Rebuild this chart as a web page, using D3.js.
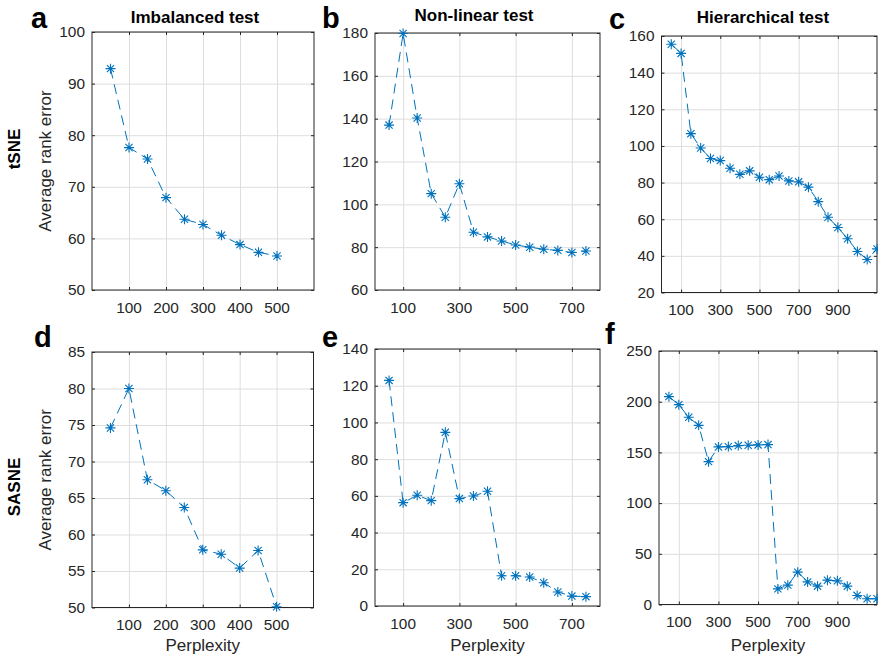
<!DOCTYPE html>
<html>
<head>
<meta charset="utf-8">
<script src="https://cdn.jsdelivr.net/npm/d3@7"></script>
<style>
  body { margin: 0; background: #fff; }
  svg { display: block; }
</style>
</head>
<body>
<div id="chart"></div>
<script>
// perplexity values per test
const xImbalanced = [50, 100, 150, 200, 250, 300, 350, 400, 450, 500];
const xNonlinear = [50, 100, 150, 200, 250, 300, 350, 400, 450, 500, 550, 600, 650, 700, 750];
const xHierarchical = [50, 100, 150, 200, 250, 300, 350, 400, 450, 500, 550, 600, 650, 700, 750, 800, 850, 900, 950, 1000, 1050, 1100];

// average rank error, tSNE row
const tsneImbalanced = [92.9, 77.6, 75.4, 67.9, 63.7, 62.7, 60.6, 58.8, 57.3, 56.6];
const tsneNonlinear = [137.0, 179.8, 140.3, 105.0, 94.0, 109.6, 87.0, 84.8, 82.9, 81.0, 80.0, 79.0, 78.5, 77.5, 78.2];
const tsneHierarchical = [155.5, 150.5, 106.7, 98.9, 93.1, 92.0, 87.8, 84.5, 86.4, 82.9, 81.6, 83.6, 80.9, 80.4, 77.5, 69.6, 61.1, 55.5, 49.3, 42.4, 38.0, 43.8];

// average rank error, SASNE row
const sasneImbalanced = [74.6, 80.0, 67.5, 66.0, 63.7, 57.9, 57.3, 55.4, 57.8, 50.1];
const sasneNonlinear = [122.9, 56.3, 60.3, 57.4, 94.6, 58.5, 59.9, 62.5, 16.5, 16.5, 15.8, 12.7, 7.6, 5.4, 5.1];
const sasneHierarchical = [205.0, 197.1, 184.6, 176.7, 140.9, 155.4, 155.7, 156.7, 157.0, 157.4, 157.7, 15.4, 19.1, 31.9, 22.3, 18.1, 24.0, 23.3, 18.1, 8.9, 5.6, 5.6];

// tick labels
const xTicksImbalanced = [100, 200, 300, 400, 500];
const xTicksNonlinear = [100, 300, 500, 700];
const xTicksHierarchical = [100, 300, 500, 700, 900];
const yTicksA = [50, 60, 70, 80, 90, 100];
const yTicksB = [60, 80, 100, 120, 140, 160, 180];
const yTicksC = [20, 40, 60, 80, 100, 120, 140, 160];
const yTicksD = [50, 55, 60, 65, 70, 75, 80, 85];
const yTicksE = [0, 20, 40, 60, 80, 100, 120, 140];
const yTicksF = [0, 50, 100, 150, 200, 250];

const titles = ["Imbalanced test", "Non-linear test", "Hierarchical test"];
const rowLabels = ["tSNE", "SASNE"];
const letters = ["a", "b", "c", "d", "e", "f"];

function drawFigure() {
  const width = 878;
  const height = 658;
  const font = "'Liberation Sans', Arial, Helvetica, sans-serif";
  const blue = "#0072BD";
  const axisColor = "#262626";
  const gridColor = "#dedede";

  const panels = [
    { x: xImbalanced, y: tsneImbalanced, xDomain: [0, 600], xTicks: xTicksImbalanced, yDomain: [50, 100], yTicks: yTicksA,
      box: { l: 92, r: 314, t: 32, b: 290 }, letter: [31, 28], title: [195, 22.7] },
    { x: xNonlinear, y: tsneNonlinear, xDomain: [0, 800], xTicks: xTicksNonlinear, yDomain: [60, 180], yTicks: yTicksB,
      box: { l: 375, r: 600, t: 33, b: 290 }, letter: [322, 28], title: [474, 21] },
    { x: xHierarchical, y: tsneHierarchical, xDomain: [0, 1100], xTicks: xTicksHierarchical, yDomain: [20, 160], yTicks: yTicksC,
      box: { l: 661.5, r: 877, t: 36, b: 292.5 }, letter: [609, 28.5], title: [763, 22.7] },
    { x: xImbalanced, y: sasneImbalanced, xDomain: [0, 600], xTicks: xTicksImbalanced, yDomain: [50, 85], yTicks: yTicksD,
      box: { l: 92, r: 313.5, t: 352, b: 607.5 }, letter: [34, 346.5] },
    { x: xNonlinear, y: sasneNonlinear, xDomain: [0, 800], xTicks: xTicksNonlinear, yDomain: [0, 140], yTicks: yTicksE,
      box: { l: 375, r: 600, t: 349, b: 606 }, letter: [322, 347] },
    { x: xHierarchical, y: sasneHierarchical, xDomain: [0, 1100], xTicks: xTicksHierarchical, yDomain: [0, 250], yTicks: yTicksF,
      box: { l: 659, r: 877, t: 351, b: 604.5 }, letter: [605, 344] }
  ];

  const svg = d3.select("#chart").append("svg")
    .attr("width", width)
    .attr("height", height)
    .style("font-family", font);

  // asterisk marker: plus + cross
  const r = 5;
  const a = r * 0.72;
  const star = `M${-r},0H${r}M0,${-r}V${r}M${-a},${-a}L${a},${a}M${-a},${a}L${a},${-a}`;

  panels.forEach((p, i) => {
    const { l, r: right, t, b } = p.box;
    const x = d3.scaleLinear().domain(p.xDomain).range([l, right]);
    const y = d3.scaleLinear().domain(p.yDomain).range([b, t]);
    const g = svg.append("g");

    // grid
    g.append("g")
      .attr("transform", `translate(0,${b})`)
      .call(d3.axisBottom(x).tickValues(p.xTicks).tickSize(-(b - t)).tickFormat(""))
      .call(s => s.select(".domain").remove())
      .call(s => s.selectAll("line").attr("stroke", gridColor).attr("stroke-width", 1));
    g.append("g")
      .attr("transform", `translate(${l},0)`)
      .call(d3.axisLeft(y).tickValues(p.yTicks).tickSize(-(right - l)).tickFormat(""))
      .call(s => s.select(".domain").remove())
      .call(s => s.selectAll("line").attr("stroke", gridColor).attr("stroke-width", 1));

    // inward ticks on all four sides
    const tickLen = 3;
    const axes = [
      [d3.axisBottom(x).tickValues(p.xTicks), `translate(0,${b})`],
      [d3.axisTop(x).tickValues(p.xTicks), `translate(0,${t})`],
      [d3.axisLeft(y).tickValues(p.yTicks), `translate(${l},0)`],
      [d3.axisRight(y).tickValues(p.yTicks), `translate(${right},0)`]
    ];
    axes.forEach(([ax, tr]) => {
      g.append("g")
        .attr("transform", tr)
        .call(ax.tickSizeInner(-tickLen).tickSizeOuter(0).tickFormat(""))
        .call(s => s.select(".domain").remove())
        .call(s => s.selectAll("line").attr("stroke", axisColor).attr("stroke-width", 1));
    });

    // tick labels
    g.selectAll(".xlab")
      .data(p.xTicks)
      .join("text")
      .attr("x", d => x(d))
      .attr("y", b + 22.5)
      .attr("text-anchor", "middle")
      .style("font-size", "15.4px")
      .style("fill", axisColor)
      .text(d => d);
    g.selectAll(".ylab")
      .data(p.yTicks)
      .join("text")
      .attr("x", l - 7)
      .attr("y", d => y(d))
      .attr("dy", "0.35em")
      .attr("text-anchor", "end")
      .style("font-size", "15.4px")
      .style("fill", axisColor)
      .text(d => d);

    // box
    g.append("rect")
      .attr("x", l).attr("y", t)
      .attr("width", right - l).attr("height", b - t)
      .attr("fill", "none")
      .attr("stroke", axisColor)
      .attr("stroke-width", 1);

    // series
    const pts = p.x.map((v, k) => [v, p.y[k]]);
    g.append("path")
      .datum(pts)
      .attr("fill", "none")
      .attr("stroke", blue)
      .attr("stroke-width", 1)
      .attr("stroke-dasharray", "10,6")
      .attr("d", d3.line().x(d => x(d[0])).y(d => y(d[1])));

    g.selectAll(".mk")
      .data(pts)
      .join("path")
      .attr("transform", d => `translate(${x(d[0])},${y(d[1])})`)
      .attr("d", star)
      .attr("fill", "none")
      .attr("stroke", blue)
      .attr("stroke-width", 1.1);

    // panel letter
    svg.append("text")
      .attr("x", p.letter[0])
      .attr("y", p.letter[1])
      .style("font-size", "29px")
      .style("font-weight", "bold")
      .style("fill", "#000")
      .text(letters[i]);

    if (p.title) {
      svg.append("text")
        .attr("x", p.title[0])
        .attr("y", p.title[1])
        .attr("text-anchor", "middle")
        .style("font-size", "17px")
        .style("font-weight", "bold")
        .style("fill", "#000")
        .text(titles[i]);
    }

    if (i % 3 === 0) {
      svg.append("text")
        .attr("transform", `translate(51,${(t + b) / 2}) rotate(-90)`)
        .attr("text-anchor", "middle")
        .style("font-size", "17px")
        .style("fill", axisColor)
        .text("Average rank error");
    }

    if (i >= 3) {
      svg.append("text")
        .attr("x", (l + right) / 2)
        .attr("y", 651)
        .attr("text-anchor", "middle")
        .style("font-size", "17px")
        .style("fill", axisColor)
        .text("Perplexity");
    }
  });

  // row labels
  svg.append("text")
    .attr("transform", "translate(20,149) rotate(-90)")
    .attr("text-anchor", "middle")
    .style("font-size", "17px")
    .style("font-weight", "bold")
    .style("fill", "#000")
    .text(rowLabels[0]);
  svg.append("text")
    .attr("transform", "translate(20,487) rotate(-90)")
    .attr("text-anchor", "middle")
    .style("font-size", "17px")
    .style("font-weight", "bold")
    .style("fill", "#000")
    .text(rowLabels[1]);
}

drawFigure();
</script>
</body>
</html>
